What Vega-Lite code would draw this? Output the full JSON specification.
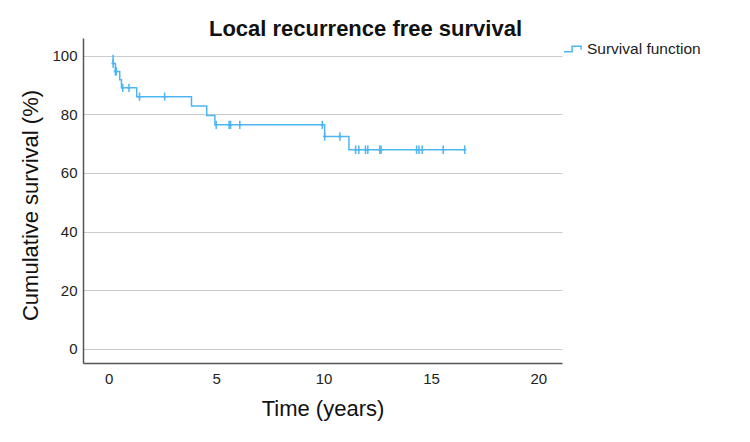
{
  "$schema": "https://vega.github.io/schema/vega-lite/v6.json",
  "autosize": {"type": "none"},
  "width": 479,
  "height": 325,
  "padding": {"left": 83, "top": 38, "right": 188, "bottom": 79},
  "background": "white",
  "title": {
    "text": "Local recurrence free survival",
    "font": "Liberation Sans",
    "fontSize": 22,
    "fontWeight": "bold",
    "color": "#111",
    "anchor": "middle",
    "dx": 43,
    "offset": -3
  },
  "datasets": {
    "curve": [
      {"t": 0.17, "S": 100, "series": "Survival function"},
      {"t": 0.2, "S": 97.3, "series": "Survival function"},
      {"t": 0.31, "S": 94.6, "series": "Survival function"},
      {"t": 0.51, "S": 91.8, "series": "Survival function"},
      {"t": 0.59, "S": 89.0, "series": "Survival function"},
      {"t": 1.3, "S": 86.0, "series": "Survival function"},
      {"t": 3.85, "S": 82.8, "series": "Survival function"},
      {"t": 4.56, "S": 79.6, "series": "Survival function"},
      {"t": 4.94, "S": 76.4, "series": "Survival function"},
      {"t": 10.05, "S": 72.4, "series": "Survival function"},
      {"t": 11.18, "S": 67.9, "series": "Survival function"},
      {"t": 16.57, "S": 67.9, "series": "Survival function"}
    ],
    "censored": [
      {"t": 0.2, "S": 97.3},
      {"t": 0.31, "S": 94.6},
      {"t": 0.35, "S": 94.6},
      {"t": 0.65, "S": 89.0},
      {"t": 0.94, "S": 89.0},
      {"t": 1.43, "S": 86.0},
      {"t": 2.6, "S": 86.0},
      {"t": 5.0, "S": 76.4},
      {"t": 5.6, "S": 76.4},
      {"t": 5.67, "S": 76.4},
      {"t": 6.1, "S": 76.4},
      {"t": 9.94, "S": 76.4},
      {"t": 10.05, "S": 72.4},
      {"t": 10.76, "S": 72.4},
      {"t": 11.49, "S": 67.9},
      {"t": 11.64, "S": 67.9},
      {"t": 11.95, "S": 67.9},
      {"t": 12.06, "S": 67.9},
      {"t": 12.62, "S": 67.9},
      {"t": 12.68, "S": 67.9},
      {"t": 14.33, "S": 67.9},
      {"t": 14.44, "S": 67.9},
      {"t": 14.59, "S": 67.9},
      {"t": 15.57, "S": 67.9},
      {"t": 16.57, "S": 67.9}
    ]
  },
  "config": {
    "view": {"stroke": null},
    "font": "Liberation Sans",
    "axis": {
      "labelFont": "Liberation Sans",
      "titleFont": "Liberation Sans",
      "labelColor": "#222",
      "titleColor": "#111",
      "labelFontSize": 15,
      "titleFontSize": 22,
      "titleFontWeight": "normal",
      "domainColor": "#555",
      "domainWidth": 1.5,
      "ticks": false,
      "gridColor": "#cccccc",
      "gridWidth": 1
    }
  },
  "layer": [
    {
      "data": {"name": "curve"},
      "mark": {"type": "line", "interpolate": "step-after", "strokeWidth": 1.5},
      "encoding": {
        "x": {
          "field": "t",
          "type": "quantitative",
          "scale": {"domain": [-1.2, 21.1], "nice": false, "zero": false},
          "axis": {
            "values": [0, 5, 10, 15, 20],
            "grid": false,
            "title": "Time (years)",
            "labelPadding": 8,
            "titlePadding": 12
          }
        },
        "y": {
          "field": "S",
          "type": "quantitative",
          "scale": {"domain": [-4.8, 106], "nice": false, "zero": false},
          "axis": {
            "values": [0, 20, 40, 60, 80, 100],
            "grid": true,
            "title": "Cumulative survival (%)",
            "labelPadding": 6,
            "titlePadding": 9,
            "titleY": 167
          }
        },
        "color": {
          "field": "series",
          "type": "nominal",
          "scale": {"domain": ["Survival function"], "range": ["#4db5f2"]},
          "legend": {
            "title": null,
            "orient": "none",
            "legendX": 480,
            "legendY": 1,
            "symbolType": "M-1,0.3L-0.1,0.3L-0.1,-0.3L0.9,-0.3L0.9,0.05",
            "symbolSize": 324,
            "symbolStrokeWidth": 1.5,
            "symbolFillColor": "transparent",
            "labelFont": "Liberation Sans",
            "labelFontSize": 15.5,
            "labelColor": "#222",
            "labelOffset": 4
          }
        }
      }
    },
    {
      "data": {"name": "censored"},
      "mark": {
        "type": "point",
        "shape": "M0,-1L0,1M-0.4,0L0.4,0",
        "size": 70,
        "filled": false,
        "strokeWidth": 1.5,
        "color": "#4db5f2",
        "opacity": 1
      },
      "encoding": {
        "x": {"field": "t", "type": "quantitative"},
        "y": {"field": "S", "type": "quantitative"}
      }
    }
  ]
}
